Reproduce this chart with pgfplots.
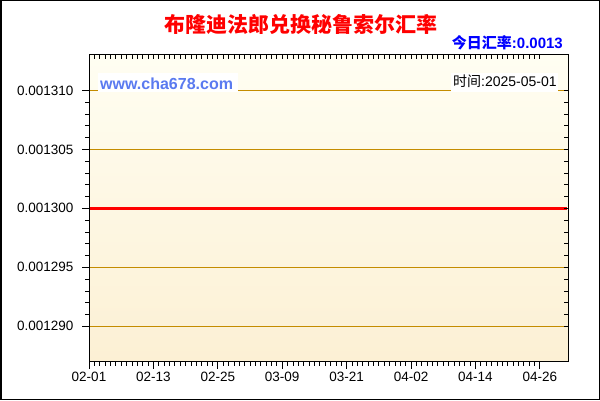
\documentclass[border=0pt]{standalone}
\usepackage{fontspec}
\setmainfont{Liberation Sans}
\newfontfamily\cjk{Noto Sans CJK SC}
\usepackage{pgfplots}
\pgfplotsset{compat=1.18}
\definecolor{gridc}{RGB}{196,140,0}
\definecolor{bgtop}{RGB}{255,254,242}
\definecolor{bgbot}{RGB}{252,240,212}
\definecolor{urlblue}{RGB}{90,122,240}
\begin{document}
\begin{tikzpicture}[x=1bp,y=1bp]
\useasboundingbox (0,0) rectangle (600,400);
\fill[white] (0,0) rectangle (600,400);
\begin{axis}[
  at={(89bp,38.3bp)}, anchor=south west,
  scale only axis, width=479.3bp, height=306.7bp,
  xmin=0, xmax=89.3, ymin=0.001287, ymax=0.001313,
  axis background/.style={top color=bgtop, bottom color=bgbot},
  xtick={0,12,24,36,48,60,72,84},
  xticklabels={02-01,02-13,02-25,03-09,03-21,04-02,04-14,04-26},
  minor x tick num=11,
  ytick={0.00129,0.001295,0.0013,0.001305,0.00131},
  minor y tick num=4,
  scaled y ticks=false,
  yticklabel={\pgfmathprintnumber[fixed,fixed zerofill,precision=6]{\tick}},
  yticklabel style={xshift=-5bp},
  tick pos=left, tick align=outside,
  major tick length=7bp, minor tick length=4bp,
  ymajorgrids, major grid style={gridc, line width=1bp},
  axis line style={black, line width=1bp},
  tick style={black, line width=0.8bp},
  tick label style={font=\fontsize{13.5bp}{15bp}\selectfont},
  /pgf/number format/assume math mode=true,
]
\addplot[red, line width=3bp] coordinates {
(0,0.0013) (1,0.0013) (2,0.0013) (3,0.0013) (4,0.0013) (5,0.0013) (6,0.0013) (7,0.0013) (8,0.0013) (9,0.0013)
(10,0.0013) (11,0.0013) (12,0.0013) (13,0.0013) (14,0.0013) (15,0.0013) (16,0.0013) (17,0.0013) (18,0.0013) (19,0.0013)
(20,0.0013) (21,0.0013) (22,0.0013) (23,0.0013) (24,0.0013) (25,0.0013) (26,0.0013) (27,0.0013) (28,0.0013) (29,0.0013)
(30,0.0013) (31,0.0013) (32,0.0013) (33,0.0013) (34,0.0013) (35,0.0013) (36,0.0013) (37,0.0013) (38,0.0013) (39,0.0013)
(40,0.0013) (41,0.0013) (42,0.0013) (43,0.0013) (44,0.0013) (45,0.0013) (46,0.0013) (47,0.0013) (48,0.0013) (49,0.0013)
(50,0.0013) (51,0.0013) (52,0.0013) (53,0.0013) (54,0.0013) (55,0.0013) (56,0.0013) (57,0.0013) (58,0.0013) (59,0.0013)
(60,0.0013) (61,0.0013) (62,0.0013) (63,0.0013) (64,0.0013) (65,0.0013) (66,0.0013) (67,0.0013) (68,0.0013) (69,0.0013)
(70,0.0013) (71,0.0013) (72,0.0013) (73,0.0013) (74,0.0013) (75,0.0013) (76,0.0013) (77,0.0013) (78,0.0013) (79,0.0013)
(80,0.0013) (81,0.0013) (82,0.0013) (83,0.0013) (84,0.0013) (85,0.0013) (86,0.0013) (87,0.0013) (88,0.0013) (89,0.0013)
};
\end{axis}
\begin{axis}[
  at={(89bp,38.3bp)}, anchor=south west,
  scale only axis, width=479.3bp, height=306.7bp,
  xmin=0, xmax=89.3, ymin=0.001287, ymax=0.001313,
  xtick={0,12,24,36,48,60,72,84}, xticklabels={},
  minor x tick num=11,
  ytick={0.00129,0.001295,0.0013,0.001305,0.00131}, yticklabels={},
  scaled y ticks=false, scaled x ticks=false,
  minor y tick num=4,
  tick pos=right, tick align=inside,
  major tick length=4bp, minor tick length=4bp,
  axis line style={black, line width=1bp},
  tick style={black, line width=0.8bp},
]
\end{axis}
\fill[white] (98,308) rectangle (238,327);
\fill[white] (451,308) rectangle (558,327);
\node[anchor=center, text=red, inner sep=0, font={\fontsize{21bp}{24bp}\selectfont\cjk\bfseries}] at (301,375.5) {布隆迪法郎兑换秘鲁索尔汇率};
\node[anchor=east, text=blue, inner sep=0, font={\fontsize{15bp}{17bp}\selectfont\bfseries}] at (563,357.5) {{\cjk 今日汇率}:0.0013};
\node[anchor=west, text=urlblue, inner sep=0, font={\fontsize{16bp}{18bp}\selectfont\bfseries}] at (100,316) {www.cha678.com};
\node[anchor=west, text=black, inner sep=0, font={\fontsize{14bp}{16bp}\selectfont}] at (453,318.3) {{\cjk 时间}:2025-05-01};
\draw[black, line width=1.5bp] (0.75,0.75) rectangle (599.25,399.25);
\end{tikzpicture}
\end{document}
